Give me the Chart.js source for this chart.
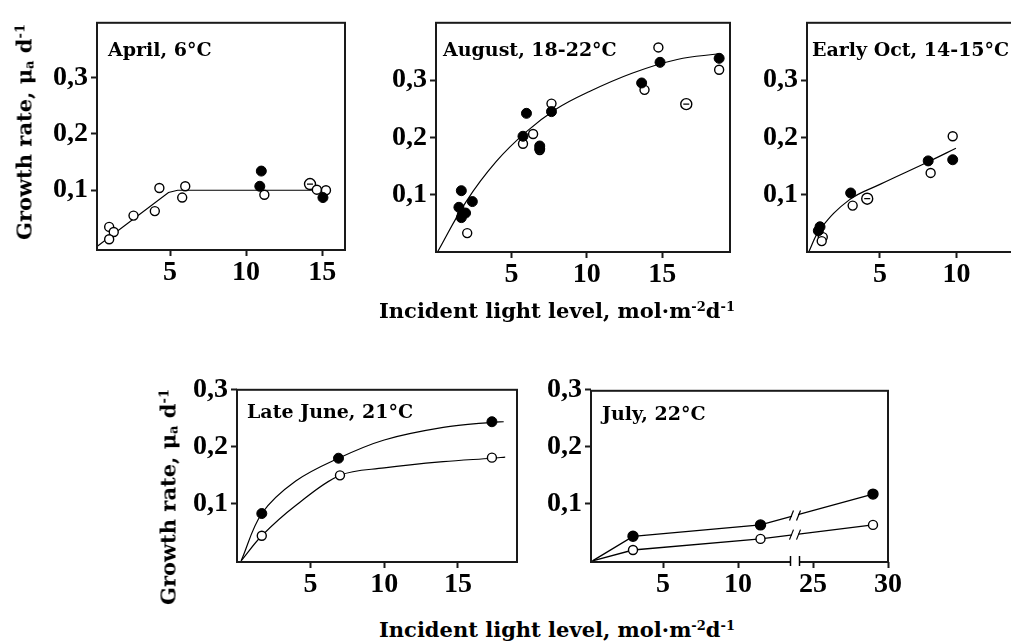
<!DOCTYPE html>
<html>
<head>
  <meta charset="utf-8">
  <title>Growth rate vs incident light</title>
  <script src="https://cdn.jsdelivr.net/npm/chart.js"></script>
  <style>
    body { margin: 0; width: 1011px; height: 644px; overflow: hidden; background: #fff; position: relative; }
    canvas { position: absolute; }
    .ytitle { position: absolute; font: bold 21px "DejaVu Serif"; white-space: nowrap; transform: translate(-50%, -50%) rotate(-90deg); color: #000; }
    .xtitle { position: absolute; font: bold 21px "DejaVu Serif"; white-space: nowrap; transform: translateX(-50%); line-height: 21px; color: #000; }
    sup { font-size: 0.62em; vertical-align: 0.55em; line-height: 0; }
    sub { font-size: 0.62em; vertical-align: -0.15em; line-height: 0; }
  </style>
</head>
<body>

<canvas id="april"></canvas>
<canvas id="august"></canvas>
<canvas id="october"></canvas>
<canvas id="june"></canvas>
<canvas id="july"></canvas>

<div class="ytitle" style="left:24px; top:132px">Growth rate, μ<sub>a</sub> d<sup>-1</sup></div>
<div class="ytitle" style="left:168px; top:497px">Growth rate, μ<sub>a</sub> d<sup>-1</sup></div>
<div class="xtitle" style="left:557px; top:300px">Incident light level, mol·m<sup>-2</sup>d<sup>-1</sup></div>
<div class="xtitle" style="left:557px; top:619px">Incident light level, mol·m<sup>-2</sup>d<sup>-1</sup></div>

<script>
  // April, 6°C
  const aprilOpenX = [1.0, 1.3, 1.0, 2.6, 4.0, 4.3, 5.8, 6.0, 11.2, 14.65, 15.25];
  const aprilOpenY = [0.035, 0.026, 0.013, 0.055, 0.063, 0.104, 0.087, 0.107, 0.092, 0.101, 0.100];
  const aprilRingX = [14.2];
  const aprilRingY = [0.111];
  const aprilFillX = [11.0, 10.9, 15.05];
  const aprilFillY = [0.134, 0.107, 0.087];
  const aprilFitX = [0.2, 4.9, 5.5, 15.3];
  const aprilFitY = [0, 0.096, 0.100, 0.100];

  // August, 18-22°C
  const augFillX = [1.68, 1.52, 1.74, 1.68, 1.96, 2.41, 6.0, 5.77, 6.88, 6.88, 7.66, 13.64, 14.86, 18.78];
  const augFillY = [0.107, 0.078, 0.065, 0.060, 0.068, 0.088, 0.242, 0.202, 0.185, 0.180, 0.245, 0.295, 0.331, 0.338];
  const augOpenX = [2.07, 5.77, 6.44, 6.88, 7.66, 13.83, 14.75, 18.78];
  const augOpenY = [0.033, 0.189, 0.206, 0.178, 0.259, 0.283, 0.357, 0.318];
  const augRingX = [16.6];
  const augRingY = [0.258];
  const augFitX = [0.1, 2.0, 4.0, 6.0, 8.0, 10.0, 13.0, 16.0, 18.8];
  const augFitY = [0, 0.088, 0.158, 0.210, 0.250, 0.278, 0.312, 0.336, 0.346];

  // Early Oct, 14-15°C
  const octFillX = [1.09, 0.98, 3.09, 8.15, 9.75];
  const octFillY = [0.044, 0.037, 0.103, 0.159, 0.161];
  const octOpenX = [1.27, 1.2, 3.22, 8.31, 9.75];
  const octOpenY = [0.026, 0.019, 0.081, 0.138, 0.202];
  const octRingX = [4.17];
  const octRingY = [0.093];
  const octFitX = [0.35, 1.1, 3.0, 5.0, 8.2, 9.96];
  const octFitY = [0, 0.040, 0.091, 0.118, 0.158, 0.181];

  // Late June, 21°C
  const juneFillX = [1.7, 6.9, 17.3];
  const juneFillY = [0.083, 0.180, 0.244];
  const juneOpenX = [1.7, 7.0, 17.3];
  const juneOpenY = [0.044, 0.150, 0.181];
  const juneFitFillX = [0.3, 1.7, 4.0, 6.9, 10.0, 14.0, 17.3, 18.1];
  const juneFitFillY = [0, 0.083, 0.140, 0.180, 0.212, 0.234, 0.243, 0.244];
  const juneFitOpenX = [0.3, 1.7, 4.0, 7.0, 10.0, 14.0, 17.3, 18.2];
  const juneFitOpenY = [0, 0.044, 0.097, 0.150, 0.163, 0.174, 0.180, 0.182];

  // July, 22°C (x axis broken between 10 and 25)
  const julyFillX = [0.3, 3, 11.5, 29];
  const julyFillY = [0, 0.043, 0.063, 0.117];
  const julyOpenX = [0.3, 3, 11.5, 29];
  const julyOpenY = [0, 0.019, 0.0385, 0.063];
  const julyTickPos = [5, 10, 15, 20];
  const julyTickLabels = ['5', '10', '25', '30'];
  const julyBreak = 13.8;
  const julyShift = 10;

  const yTicksTop = [0.1, 0.2, 0.3];
  const yTicksBottom = [0.1, 0.2, 0.3];

  const PADL = 80, PADT = 12, PADR = 14, PADB = 45;
  const tickFont = { family: 'Liberation Serif', size: 28, weight: 'bold' };

  const pts = (xs, ys, fx) => xs.map((x, i) => ({ x: fx ? fx(x) : x, y: ys[i] }));
  const julyPos = v => v > julyBreak ? v - julyShift : v;

  const filled = (xs, ys, fx) => ({ data: pts(xs, ys, fx), showLine: false, pointRadius: 5,
    pointBackgroundColor: '#000', pointBorderColor: '#000', pointBorderWidth: 1, order: 1 });
  const open = (xs, ys, fx) => ({ data: pts(xs, ys, fx), showLine: false, pointRadius: 4.5,
    pointBackgroundColor: '#fff', pointBorderColor: '#000', pointBorderWidth: 1.4, order: 1 });
  const ring = (xs, ys) => [
    { data: pts(xs, ys), showLine: false, pointStyle: 'line', pointRadius: 3, pointBorderColor: '#000', pointBorderWidth: 1.3, order: 0 },
    { data: pts(xs, ys), showLine: false, pointRadius: 5.5, pointBackgroundColor: '#fff', pointBorderColor: '#000', pointBorderWidth: 1.4, order: 1 }
  ];
  const fit = (xs, ys, tension) => ({ data: pts(xs, ys), showLine: true, pointRadius: 0,
    borderColor: '#000', borderWidth: 1.2, tension: tension, order: 3 });
  const linePts = (xs, ys, fx, fillPts) => ({ data: pts(xs, ys, fx), showLine: true,
    borderColor: '#000', borderWidth: 1.3, tension: 0,
    pointRadius: ctx => ctx.dataIndex === 0 ? 0 : (fillPts ? 5 : 4.5),
    pointBackgroundColor: fillPts ? '#000' : '#fff', pointBorderColor: '#000', pointBorderWidth: 1.4, order: 1 });

  const framePlugin = {
    id: 'frame',
    afterDatasetsDraw(chart) {
      const { ctx, chartArea: a } = chart;
      ctx.save();
      ctx.strokeStyle = '#1a1a1a';
      ctx.lineWidth = 2;
      ctx.strokeRect(a.left, a.top, a.right - a.left, a.bottom - a.top);
      ctx.restore();
    }
  };

  const breakPlugin = {
    id: 'breakMarks',
    afterDatasetsDraw(chart, args, o) {
      if (o.at === undefined) return;
      const { ctx, chartArea: a, scales: { x } } = chart;
      const bx = x.getPixelForValue(o.at);
      ctx.save();
      ctx.fillStyle = '#fff';
      ctx.fillRect(bx - 4, a.bottom - 2, 8, 4);
      ctx.strokeStyle = '#000';
      ctx.lineWidth = 1.5;
      [-4.5, 4.5].forEach(d => {
        ctx.beginPath(); ctx.moveTo(bx + d, a.bottom - 6); ctx.lineTo(bx + d, a.bottom + 4); ctx.stroke();
      });
      o.lines.forEach(i => {
        const el = chart.getDatasetMeta(i).data;
        for (let k = 1; k < el.length; k++) {
          if (el[k - 1].x <= bx && el[k].x >= bx) {
            const t = (bx - el[k - 1].x) / (el[k].x - el[k - 1].x);
            const py = el[k - 1].y + t * (el[k].y - el[k - 1].y);
            ctx.fillStyle = '#fff';
            ctx.fillRect(bx - 3, py - 4, 6, 8);
            ctx.lineWidth = 1.2;
            [-3.5, 3.5].forEach(d => {
              ctx.beginPath(); ctx.moveTo(bx + d - 2, py + 5); ctx.lineTo(bx + d + 2, py - 5); ctx.stroke();
            });
          }
        }
      });
      ctx.restore();
    }
  };

  const labelPlugin = {
    id: 'panelLabel',
    afterDraw(chart, args, o) {
      if (!o.text) return;
      const { ctx, chartArea: a } = chart;
      ctx.save();
      ctx.font = 'bold 19px "DejaVu Serif"';
      ctx.fillStyle = '#000';
      ctx.textBaseline = 'alphabetic';
      ctx.fillText(o.text, a.left + o.dx, a.top + o.dy);
      ctx.restore();
    }
  };

  function makePanel(id, f, p) {
    const cv = document.getElementById(id);
    const w = f.r - f.l + PADL + PADR, h = f.b - f.t + PADT + PADB;
    cv.width = w; cv.height = h;
    cv.style.left = (f.l - PADL) + 'px';
    cv.style.top = (f.t - PADT) + 'px';
    cv.style.width = w + 'px'; cv.style.height = h + 'px';
    const grid = { drawOnChartArea: false, drawTicks: true, tickLength: 6, tickWidth: 2, color: '#1a1a1a' };
    return new Chart(cv, {
      type: 'scatter',
      data: { datasets: p.datasets },
      options: {
        responsive: false, animation: false, events: [],
        layout: { padding: { top: PADT, right: PADR, left: 0, bottom: 0 } },
        scales: {
          x: {
            type: 'linear', min: p.x[0], max: p.x[1],
            afterBuildTicks: s => { s.ticks = p.xt.map(v => ({ value: v })); },
            afterFit: s => { s.height = PADB; },
            ticks: { font: tickFont, color: '#000', padding: 0, autoSkip: false, maxRotation: 0,
              callback: (v, i) => p.xl ? p.xl[i] : String(v) },
            grid: grid, border: { display: false }
          },
          y: {
            type: 'linear', min: p.y[0], max: p.y[1],
            afterBuildTicks: s => { s.ticks = p.yt.map(v => ({ value: v })); },
            afterFit: s => { s.width = PADL; },
            ticks: { font: tickFont, color: '#000', padding: 3,
              callback: v => v.toFixed(1).replace('.', ',') },
            grid: grid, border: { display: false }
          }
        },
        plugins: {
          legend: { display: false }, tooltip: { enabled: false }, title: { display: false },
          panelLabel: { text: p.label, dx: p.dx, dy: p.dy },
          breakMarks: p.brk || {}
        }
      },
      plugins: [framePlugin, breakPlugin, labelPlugin]
    });
  }

  makePanel('april', { l: 97, r: 345, t: 15, b: 250 }, {
    x: [0.2, 16.5], y: [-0.006, 0.397], xt: [5, 10, 15], yt: yTicksTop,
    label: 'April, 6°C', dx: 11, dy: 33,
    datasets: [filled(aprilFillX, aprilFillY), open(aprilOpenX, aprilOpenY), ...ring(aprilRingX, aprilRingY),
      fit(aprilFitX, aprilFitY, 0)]
  });

  makePanel('august', { l: 436, r: 730, t: 15, b: 252 }, {
    x: [0, 19.5], y: [0, 0.4], xt: [5, 10, 15], yt: yTicksTop,
    label: 'August, 18-22°C', dx: 7, dy: 33,
    datasets: [filled(augFillX, augFillY), open(augOpenX, augOpenY), ...ring(augRingX, augRingY),
      fit(augFitX, augFitY, 0.4)]
  });

  makePanel('october', { l: 807, r: 1050, t: 15, b: 252 }, {
    x: [0.24, 16.1], y: [0, 0.4], xt: [5, 10], yt: yTicksTop,
    label: 'Early Oct, 14-15°C', dx: 5, dy: 33,
    datasets: [filled(octFillX, octFillY), open(octOpenX, octOpenY), ...ring(octRingX, octRingY),
      fit(octFitX, octFitY, 0.4)]
  });

  makePanel('june', { l: 237, r: 517, t: 382, b: 562 }, {
    x: [0.02, 19.0], y: [-0.002, 0.3], xt: [5, 10, 15], yt: yTicksBottom,
    label: 'Late June, 21°C', dx: 10, dy: 28,
    datasets: [filled(juneFillX, juneFillY), open(juneOpenX, juneOpenY),
      fit(juneFitFillX, juneFitFillY, 0.35), fit(juneFitOpenX, juneFitOpenY, 0.35)]
  });

  makePanel('july', { l: 591, r: 888, t: 383, b: 562 }, {
    x: [0.2, 20], y: [-0.002, 0.298], xt: julyTickPos, xl: julyTickLabels, yt: yTicksBottom,
    label: 'July, 22°C', dx: 11, dy: 29,
    brk: { at: julyBreak, lines: [0, 1] },
    datasets: [linePts(julyFillX, julyFillY, julyPos, true), linePts(julyOpenX, julyOpenY, julyPos, false)]
  });
</script>

</body>
</html>
